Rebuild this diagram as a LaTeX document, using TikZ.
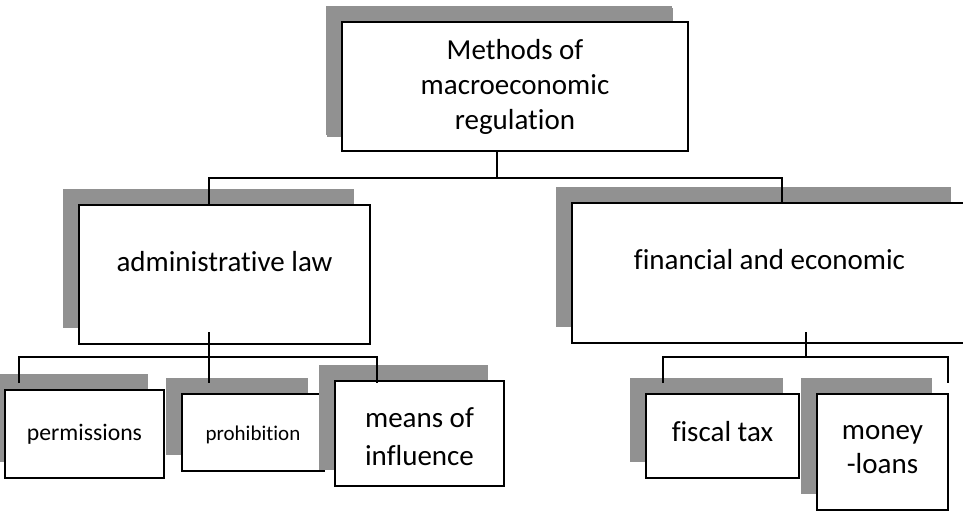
\documentclass[tikz,border=0pt]{standalone}
\usepackage{fontspec}
\setmainfont{Carlito}[Ligatures={NoCommon}]
\usetikzlibrary{shadows,fit}
\definecolor{shadowgray}{RGB}{145,145,145}
\begin{document}
\begin{tikzpicture}[x=1pt,y=-1pt,
  box/.style={draw, line width=2.8pt, fill=white, inner sep=0pt,
    general shadow={fill=shadowgray, draw=none, shadow xshift=-16pt, shadow yshift=16pt}},
  conn/.style={line width=2.5pt},
  big/.style={font=\fontsize{29}{35}\selectfont, align=center},
  mid/.style={font=\fontsize{23.7}{28}\selectfont, align=center},
  small/.style={font=\fontsize{21}{25}\selectfont, align=center}
]
\useasboundingbox (0,0) rectangle (963,515);

% level 0
\node[box, general shadow={fill=shadowgray, draw=none, shadow xshift=-15pt, shadow yshift=14pt},
  fit={(342,22) (688,151)},
  label={[big]center:Methods of\\macroeconomic\\regulation}] (top) {};

% level 1
\node[box, fit={(79,205) (370,344)},
  label={[big, yshift=12.5pt]center:administrative law}] (admin) {};
\node[box, fit={(572,203) (967,343)},
  label={[big, yshift=13pt]center:financial and economic}] (fin) {};

% level 2
\node[box, fit={(5,390) (164,478)},
  label={[mid]center:permissions}] (perm) {};
\node[box, fit={(182,394) (324,471)},
  label={[small, yshift=-2pt]center:prohibition}] (proh) {};
\node[box, fit={(335,381) (504,486)},
  label={[big, yshift=-3.5pt, font=\fontsize{29}{38}\selectfont]center:means of\\influence}] (means) {};
\node[box, fit={(646,394) (799,478)},
  label={[big, yshift=4pt]center:fiscal tax}] (fiscal) {};
\node[box, fit={(817,394) (948,510)},
  label={[big, yshift=2pt, font=\fontsize{29}{34}\selectfont]center:money\\-loans}] (money) {};

% connectors level 0 -> 1
\coordinate (t0) at (497,178);
\coordinate (ja) at (209,178);
\coordinate (jf) at (782,178);
\draw[conn] (top.south -| t0) -- (t0);
\draw[conn] (admin.north -| ja) -- (ja) -- (jf) -- (fin.north -| jf);

% connectors admin -> children
\coordinate (a0) at (209,332);
\coordinate (a1) at (209,357);
\coordinate (ap) at (19,357);
\coordinate (am) at (377,357);
\coordinate (ep) at (19,383);
\coordinate (eh) at (209,383);
\coordinate (em) at (377,383);
\draw[conn] (a0) -- (eh);
\draw[conn] (ep) -- (ap) -- (am) -- (em);

% connectors fin -> children
\coordinate (f0) at (806,332);
\coordinate (f1) at (806,357);
\coordinate (ff) at (663,357);
\coordinate (fm) at (948,357);
\coordinate (ef) at (663,383);
\coordinate (emo) at (948,383);
\draw[conn] (f0) -- (f1);
\draw[conn] (ef) -- (ff) -- (fm) -- (emo);
\end{tikzpicture}
\end{document}
